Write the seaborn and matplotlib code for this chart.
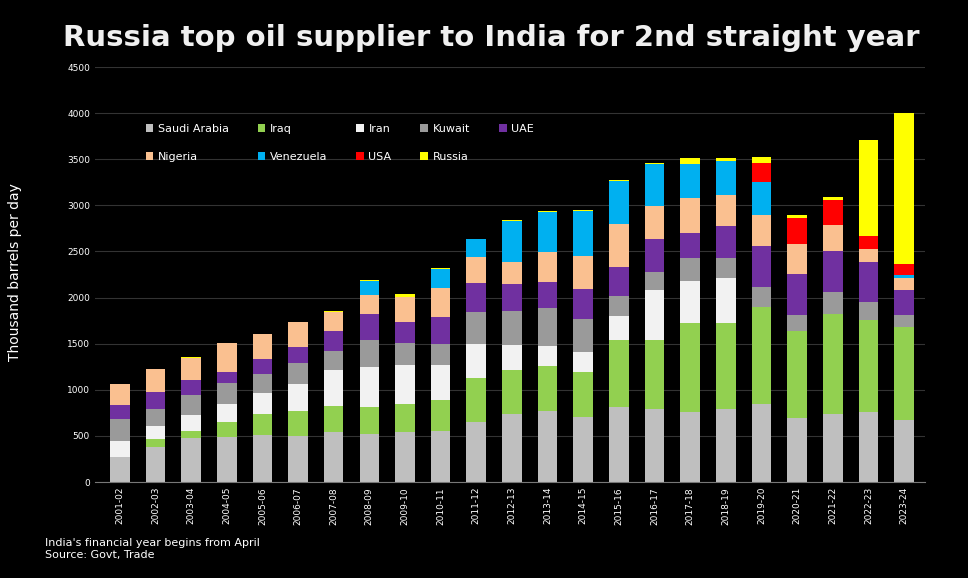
import numpy as np
import pandas as pd
import matplotlib
matplotlib.use("Agg")
import matplotlib.pyplot as plt
import seaborn as sns
from matplotlib.patches import Patch

years = ["2001-02","2002-03","2003-04","2004-05","2005-06","2006-07","2007-08","2008-09",
         "2009-10","2010-11","2011-12","2012-13","2013-14","2014-15","2015-16","2016-17",
         "2017-18","2018-19","2019-20","2020-21","2021-22","2022-23","2023-24"]
saudi     = [275,380,477,488,510,499,542,521,542,553,651,738,770,705,813,792,759,792,846,694,738,759,672]
iraq      = [0,86,76,163,228,271,282,292,304,336,477,477,488,488,727,748,966,933,1052,944,1084,998,1009]
iran      = [170,141,174,195,227,293,391,434,423,380,369,271,217,217,260,542,455,488,0,0,0,0,0]
kuwait    = [238,185,217,228,206,228,206,293,239,228,347,369,412,358,217,196,250,217,217,173,239,195,130]
uae       = [152,184,162,119,163,173,217,282,227,293,314,293,282,325,315,357,271,347,445,445,444,434,271]
nigeria   = [228,250,239,315,271,271,206,206,271,314,282,238,326,358,466,358,379,336,336,325,282,141,131]
venezuela = [0,0,0,0,0,0,0,152,0,206,195,445,433,488,467,456,369,369,358,0,0,0,32]
usa       = [0,0,0,0,0,0,0,0,0,0,0,0,0,0,0,0,0,0,206,282,272,141,119]
russia    = [0,0,10,5,5,5,10,10,33,10,0,10,10,10,10,10,65,32,65,33,32,1041,1638]

series = [("Saudi Arabia", saudi, "#bfbfbf"), ("Iraq", iraq, "#92d050"), ("Iran", iran, "#f2f2f2"),
          ("Kuwait", kuwait, "#9a9a9a"), ("UAE", uae, "#7030a0"), ("Nigeria", nigeria, "#fac090"),
          ("Venezuela", venezuela, "#00b0f0"), ("USA", usa, "#ff0000"), ("Russia", russia, "#ffff00")]

fig = plt.figure(figsize=(9.68, 5.78), dpi=100, facecolor="black")
ax = fig.add_axes([0.098, 0.166, 0.858, 0.718])
ax.set_facecolor("black")
ax.set_axisbelow(True)
ax.yaxis.grid(True, color="#333333", linewidth=0.8)

bottom = np.zeros(len(years))
for name, vals, col in series:
    df = pd.DataFrame({"year": years, "val": vals})
    sns.barplot(data=df, x="year", y="val", color=col, bottom=bottom, width=0.55,
                ax=ax, saturation=1, linewidth=0)
    bottom = bottom + np.array(vals)

ax.set_ylim(0, 4500)
ax.set_yticks(range(0, 4501, 500))
ax.set_xlim(-0.7, len(years) - 0.4)
ax.tick_params(axis="y", colors="white", labelsize=6.5, length=0)
ax.tick_params(axis="x", colors="white", labelsize=6.5, rotation=90, length=0)
for s in ["top", "right", "left"]:
    ax.spines[s].set_visible(False)
ax.spines["bottom"].set_color("#777777")
ax.set_xlabel("")
ax.set_ylabel("")

fig.text(0.008, 0.53, "Thousand barrels per day", rotation=90, color="white",
         fontsize=10, va="center", ha="left")
fig.text(0.508, 0.935, "Russia top oil supplier to India for 2nd straight year", color="#f0f0f0",
         fontsize=21, fontweight="bold", ha="center", va="center")
fig.text(0.047, 0.05, "India's financial year begins from April\nSource: Govt, Trade", color="white",
         fontsize=8, ha="left", va="center", linespacing=1.3)

order = [0, 5, 1, 6, 2, 7, 3, 8, 4]
handles = [Patch(facecolor=series[i][2], label=series[i][0]) for i in order]
leg = fig.legend(handles=handles, ncol=5, loc="upper left", bbox_to_anchor=(0.14, 0.803),
                 frameon=False, fontsize=8, handlelength=0.7, handleheight=0.7,
                 columnspacing=2.6, labelspacing=1.6, handletextpad=0.4)
for t in leg.get_texts():
    t.set_color("white")

fig.savefig("out.png", dpi=100, facecolor="black")
